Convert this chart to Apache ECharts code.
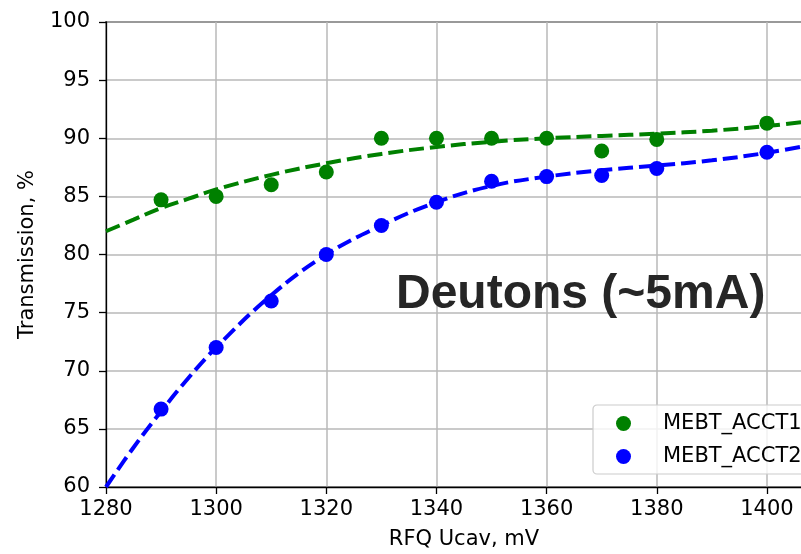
<!DOCTYPE html>
<html>
<head>
<meta charset="utf-8">
<script src="https://cdn.jsdelivr.net/npm/echarts@6/dist/echarts.min.js"></script>
<style>
  html, body { margin: 0; padding: 0; background: #fff; }
  #chart { width: 801px; height: 554px; }
</style>
</head>
<body>
<div id="chart"></div>
<script>
// Measured transmission vs RFQ cavity voltage
const rfqUcav = [1290, 1300, 1310, 1320, 1330, 1340, 1350, 1360, 1370, 1380, 1400];
const acct1 = [84.7, 85.0, 86.0, 87.1, 90.0, 90.0, 90.0, 90.0, 88.9, 89.9, 91.3];
const acct2 = [66.7, 72.0, 76.0, 80.0, 82.5, 84.5, 86.3, 86.7, 86.8, 87.4, 88.8];

// Fitted trend curves (dashed)
const fitX = [1280, 1285, 1290, 1295, 1300, 1310, 1320, 1330, 1340, 1350, 1360, 1370, 1380, 1390, 1400, 1410];
const fit1 = [82.0, 83.0, 84.0, 84.8, 85.6, 86.85, 87.85, 88.65, 89.25, 89.7, 90.0, 90.2, 90.4, 90.65, 91.05, 91.6];
const fit2 = [60.0, 63.4, 66.5, 69.4, 72.0, 76.5, 80.0, 82.5, 84.5, 85.9, 86.7, 87.25, 87.65, 88.1, 88.75, 89.6];

const seriesNames = ['MEBT_ACCT1', 'MEBT_ACCT2'];
const colors = ['#008000', '#0000ff'];
const titleText = 'Deutons (~5mA)';

const zip = (xs, ys) => xs.map((x, i) => [x, ys[i]]);

const font = 'DejaVu Sans';
const chart = echarts.init(document.getElementById('chart'), null, { renderer: 'canvas' });

chart.setOption({
  animation: false,
  backgroundColor: '#ffffff',
  grid: {
    left: 106, width: 716, top: 22, bottom: 67,
    outerBoundsMode: 'none', containLabel: false,
    show: true, borderColor: '#000', borderWidth: 1.3, backgroundColor: 'transparent'
  },
  xAxis: {
    type: 'value', min: 1280, max: 1410, interval: 20,
    name: 'RFQ Ucav, mV', nameLocation: 'middle', nameGap: 42,
    nameTextStyle: { fontFamily: font, fontSize: 21, color: '#000' },
    axisLine: { show: true, onZero: false, lineStyle: { color: '#000', width: 1.3 } },
    axisTick: { show: true, length: 7, lineStyle: { color: '#000', width: 1.3 } },
    axisLabel: {
      fontFamily: font, fontSize: 21, color: '#000', margin: 12, showMaxLabel: false,
      formatter: v => String(v)
    },
    splitLine: { show: true, lineStyle: { color: '#b8b8b8', width: 1.5 } }
  },
  yAxis: {
    type: 'value', min: 60, max: 100, interval: 5,
    name: 'Transmission, %', nameLocation: 'middle', nameGap: 68, nameRotate: 90,
    nameTextStyle: { fontFamily: font, fontSize: 21, color: '#000' },
    axisLine: { show: true, onZero: false, lineStyle: { color: '#000', width: 1.3 } },
    axisTick: { show: true, length: 7, lineStyle: { color: '#000', width: 1.3 } },
    axisLabel: { fontFamily: font, fontSize: 21, color: '#000', margin: 16 },
    splitLine: { show: true, lineStyle: { color: '#b8b8b8', width: 1.5 } }
  },
  legend: {
    data: seriesNames,
    orient: 'vertical',
    left: 593, top: 405,
    padding: [8, 40, 7, 23],
    itemWidth: 15, itemHeight: 15, itemGap: 12,
    icon: 'circle',
    backgroundColor: 'rgba(255,255,255,0.8)',
    borderColor: '#cccccc', borderWidth: 1.2, borderRadius: 4,
    selectedMode: false,
    textStyle: { fontFamily: font, fontSize: 21, color: '#000', lineHeight: 21, padding: [0, 0, 0, 27] }
  },
  graphic: [{
    type: 'text', left: 396, top: 271, z: 10,
    style: { text: titleText, font: 'bold 48px "Liberation Sans", Arial, sans-serif', fill: '#262626' }
  }],
  series: [
    {
      name: seriesNames[0], type: 'scatter', data: zip(rfqUcav, acct1),
      symbol: 'circle', symbolSize: 15, itemStyle: { color: colors[0], opacity: 1 }, z: 3
    },
    {
      name: seriesNames[1], type: 'scatter', data: zip(rfqUcav, acct2),
      symbol: 'circle', symbolSize: 15, itemStyle: { color: colors[1], opacity: 1 }, z: 3
    },
    {
      name: 'fit1', type: 'line', data: zip(fitX, fit1), smooth: 0.4, showSymbol: false, clip: true,
      lineStyle: { color: colors[0], width: 4, type: [15, 6] }, z: 4
    },
    {
      name: 'fit2', type: 'line', data: zip(fitX, fit2), smooth: 0.4, showSymbol: false, clip: true,
      lineStyle: { color: colors[1], width: 4, type: [15, 6] }, z: 4
    }
  ]
});
</script>
</body>
</html>
